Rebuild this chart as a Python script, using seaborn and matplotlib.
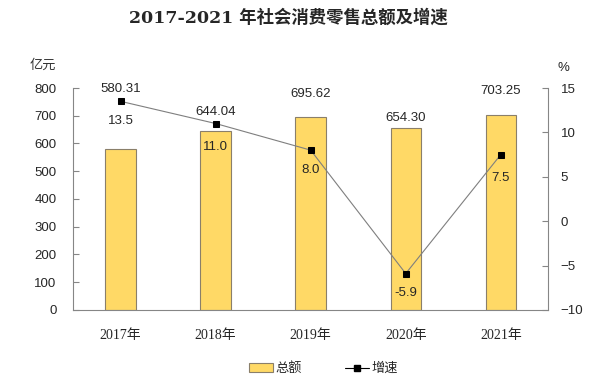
import numpy as np
import matplotlib
matplotlib.use("Agg")
import matplotlib.pyplot as plt
import seaborn as sns
from matplotlib.patches import Patch
from matplotlib.lines import Line2D

sns.set_style("white")
plt.rcParams["font.family"] = ["Liberation Sans", "Noto Sans CJK SC"]

# ===========================
# DATA
# ===========================

years = ["2017年", "2018年", "2019年", "2020年", "2021年"]
totals = [580.31, 644.04, 695.62, 654.30, 703.25]
growth = [13.5, 11.0, 8.0, -5.9, 7.5]

total_labels = ["580.31", "644.04", "695.62", "654.30", "703.25"]
growth_labels = ["13.5", "11.0", "8.0", "-5.9", "7.5"]

left_ticks = [0, 100, 200, 300, 400, 500, 600, 700, 800]
right_ticks = [-10, -5, 0, 5, 10, 15]

# label offsets in points (style only)
total_offsets = [39, 9.5, 12, 3, 12.5]
growth_offsets = [-14, -17, -14, -14, -17]

BAR = "#FFD966"
EDGE = "#8a7f6a"
SPINE = "#868686"

# ===========================
# FIGURE
# ===========================

fig = plt.figure(figsize=(6.14, 3.86), dpi=100)
ax = fig.add_axes([0.119, 0.197, 0.774, 0.575])

x = np.arange(len(years))

sns.barplot(
    x=x,
    y=totals,
    color=BAR,
    edgecolor=EDGE,
    linewidth=0.8,
    width=0.32,
    saturation=1,
    ax=ax
)

ax.set_xlim(-0.5, len(years) - 0.5)
ax.set_ylim(0, 800)
ax.set_yticks(left_ticks)
ax.set_xticks(x)
ax.set_xticklabels(years, family=["Liberation Serif", "Noto Sans CJK SC"], fontsize=10)
ax.set_xticks(x[:-1] + 0.5, minor=True)
ax.tick_params(axis="x", which="major", length=0, pad=14)
ax.tick_params(axis="x", which="minor", direction="in", length=4, color=SPINE, width=0.8)
ax.tick_params(axis="y", direction="in", length=4, color=SPINE, width=0.8, labelsize=9.5, pad=12)
ax.set_xlabel("")
ax.set_ylabel("")

for i, v in enumerate(totals):
    ax.annotate(
        total_labels[i],
        xy=(x[i], v),
        xytext=(0, total_offsets[i]),
        textcoords="offset points",
        ha="center",
        va="bottom",
        fontsize=9.5
    )

# ===========================
# GROWTH LINE
# ===========================

ax2 = ax.twinx()

sns.lineplot(
    x=x,
    y=growth,
    color="#7f7f7f",
    linewidth=0.8,
    marker="s",
    markersize=5,
    markerfacecolor="black",
    markeredgecolor="black",
    ax=ax2
)

ax2.set_ylim(-10, 15)
ax2.set_yticks(right_ticks)
ax2.tick_params(axis="y", direction="in", length=4, color=SPINE, width=0.8, labelsize=9.5, pad=9)

for i, v in enumerate(growth):
    ax2.annotate(
        growth_labels[i],
        xy=(x[i], v),
        xytext=(0, growth_offsets[i]),
        textcoords="offset points",
        ha="center",
        va="center",
        fontsize=9.5
    )

for a in (ax, ax2):
    a.spines["top"].set_visible(False)
    for s in ("left", "right", "bottom"):
        a.spines[s].set_color(SPINE)
        a.spines[s].set_linewidth(0.8)
ax.spines["right"].set_visible(False)
ax2.spines["left"].set_visible(False)
ax2.spines["bottom"].set_visible(False)

# ===========================
# TEXTS
# ===========================

fig.text(
    0.47, 0.953,
    "2017-2021 年社会消费零售总额及增速",
    ha="center",
    va="center",
    fontsize=12.5,
    fontweight="bold",
    family=["DejaVu Serif", "Noto Sans CJK SC"]
)
fig.text(0.07, 0.83, "亿元", ha="center", va="center", fontsize=9.5,
         family=["Noto Sans CJK SC"], color="#333333")
fig.text(0.918, 0.825, "%", ha="center", va="center", fontsize=9.5)

handles = [
    Patch(facecolor=BAR, edgecolor=EDGE, linewidth=0.8),
    Line2D([0], [0], color="black", linewidth=0.8, marker="s", markersize=4)
]
fig.legend(
    handles,
    ["总额", "增速"],
    loc="center",
    bbox_to_anchor=(0.527, 0.045),
    ncol=2,
    frameon=False,
    handlelength=1.8,
    handletextpad=0.2,
    columnspacing=3.3,
    prop={"family": ["Noto Sans CJK SC"], "size": 9.5}
)

fig.savefig("out.png", dpi=100)
